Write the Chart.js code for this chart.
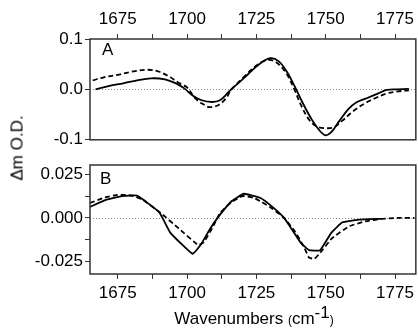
<!DOCTYPE html>
<html lang="en">
<head>
  <meta charset="UTF-8" />
  <title>Difference spectra</title>
  <script src="https://cdn.jsdelivr.net/npm/chart.js"></script>
  <style>
    body {
      margin: 0;
      background: #fff;
      font-family: "Liberation Sans", Arial, sans-serif;
      color: #000;
    }
    #wrap {
      position: relative;
      width: 418px;
      height: 329px;
      overflow: hidden;
    }
    canvas {
      position: absolute;
      left: 0;
    }
    #chartA { top: 0; }
    #chartB { top: 152px; }
    .lbl {
      position: absolute;
      font-size: 17px;
      line-height: 17px;
      white-space: nowrap;
    }
    #ytitle {
      left: 17px;
      top: 148px;
      transform: translate(-50%, -50%) rotate(-90deg);
    }
    #xtitle {
      left: 254px;
      top: 310px;
      transform: translateX(-50%);
    }
    #xtitle .small { font-size: 12px; }
    #xtitle .sup { position: relative; top: -6px; }
  </style>
</head>
<body>
  <div id="wrap">
    <canvas id="chartA" width="418" height="152"></canvas>
    <canvas id="chartB" width="418" height="177"></canvas>
    <div class="lbl" style="left:102px;top:41px">A</div>
    <div class="lbl" style="left:100px;top:170px">B</div>
    <div class="lbl" id="ytitle">&Delta;m O.D.</div>
    <div class="lbl" id="xtitle">Wavenumbers <span class="small">(</span>cm<span class="sup">-1</span><span class="small">)</span></div>
  </div>
  <script>
    // Panel A, solid trace
    const waveA1 = [1667, 1672, 1677, 1682, 1687, 1692, 1696, 1699, 1702, 1705, 1709, 1712, 1715, 1718, 1722, 1726, 1730, 1733, 1736, 1739, 1742, 1745, 1748, 1750, 1752, 1755, 1758, 1761, 1765, 1769, 1772, 1776, 1780];
    const odA1 = [0.000, 0.007, 0.012, 0.018, 0.022, 0.020, 0.012, 0.002, -0.012, -0.021, -0.025, -0.021, -0.005, 0.010, 0.030, 0.050, 0.062, 0.056, 0.035, 0.004, -0.030, -0.060, -0.083, -0.091, -0.085, -0.062, -0.040, -0.026, -0.017, -0.008, -0.001, 0.000, 0.001];
    // Panel A, dashed trace
    const waveA2 = [1666, 1670, 1675, 1680, 1686, 1690, 1694, 1697, 1700, 1703, 1706, 1708, 1711, 1714, 1716, 1720, 1724, 1728, 1730.5, 1733, 1736, 1738.7, 1741, 1744, 1747, 1750, 1753, 1756, 1760, 1764, 1768, 1772, 1776, 1780];
    const odA2 = [0.018, 0.024, 0.029, 0.035, 0.039, 0.035, 0.024, 0.013, 0.004, -0.018, -0.030, -0.035, -0.032, -0.018, 0.000, 0.022, 0.043, 0.057, 0.058, 0.050, 0.030, 0.000, -0.030, -0.060, -0.074, -0.077, -0.075, -0.062, -0.043, -0.028, -0.017, -0.008, -0.004, -0.002];

    // Panel B, solid trace
    const waveB1 = [1665, 1671, 1676, 1682, 1690, 1694, 1702, 1705, 1708, 1711, 1716, 1720.5, 1726.5, 1731, 1735, 1738, 1741, 1744, 1748, 1752, 1756, 1762, 1770];
    const odB1 = [0.0063, 0.0104, 0.0123, 0.0127, 0.0032, -0.0085, -0.0205, -0.0152, -0.0070, 0.0000, 0.0095, 0.0138, 0.0114, 0.0060, 0.0000, -0.0070, -0.0142, -0.0184, -0.0184, -0.0085, -0.0025, -0.0010, -0.0005];
    // Panel B, dashed trace
    const waveB2 = [1665, 1670, 1675, 1680, 1684, 1690.5, 1697, 1704, 1706, 1709, 1712, 1716, 1720, 1724, 1727, 1731, 1735, 1739, 1742, 1744, 1746, 1748, 1752.4, 1758.5, 1764.5, 1770, 1776, 1782];
    const odB2 = [0.0085, 0.0115, 0.0132, 0.0128, 0.0104, 0.0028, -0.0060, -0.0155, -0.0140, -0.0060, 0.0030, 0.0090, 0.0125, 0.0115, 0.0090, 0.0050, 0.0000, -0.0080, -0.0160, -0.0227, -0.0233, -0.0199, -0.0114, -0.0047, -0.0019, -0.0006, 0.0000, 0.0000];

    const xMin = 1665, xMax = 1782.5;
    const font = { family: '"Liberation Sans", Arial, sans-serif', size: 17 };

    const pts = (xs, ys) => xs.map((x, i) => ({ x: x, y: ys[i] }));

    // zero line and frame around the plot area
    const framePlugin = {
      id: 'frame',
      beforeDatasetsDraw(chart) {
        const { ctx, chartArea: a, scales } = chart;
        const y0 = Math.round(scales.y.getPixelForValue(0)) + 0.5;
        ctx.save();
        ctx.strokeStyle = '#8a8a8a';
        ctx.lineWidth = 1;
        ctx.setLineDash([1, 2]);
        ctx.beginPath();
        ctx.moveTo(a.left, y0);
        ctx.lineTo(a.right, y0);
        ctx.stroke();
        ctx.restore();
      },
      afterDatasetsDraw(chart) {
        const { ctx, chartArea: a } = chart;
        ctx.save();
        ctx.strokeStyle = '#333';
        ctx.lineWidth = 1.5;
        ctx.strokeRect(a.left, a.top, a.right - a.left, a.bottom - a.top);
        ctx.restore();
      }
    };

    function makeChart(id, solid, dashed, opts) {
      return new Chart(document.getElementById(id), {
        type: 'line',
        data: {
          datasets: [
            { data: solid, borderColor: '#000', borderWidth: 1.8, tension: opts.tension, pointRadius: 0, fill: false },
            { data: dashed, borderColor: '#000', borderWidth: 1.8, borderDash: [5, 3], tension: opts.tension, pointRadius: 0, fill: false }
          ]
        },
        options: {
          responsive: false,
          animation: false,
          layout: { padding: opts.padding },
          plugins: { legend: { display: false }, tooltip: { enabled: false } },
          scales: {
            x: {
              type: 'linear',
              position: opts.xPos,
              min: xMin,
              max: xMax,
              afterFit: s => { s.height = opts.xHeight; },
              border: { display: false },
              grid: { drawOnChartArea: false, drawTicks: true, tickLength: 5, color: '#333' },
              ticks: {
                stepSize: 12.5,
                includeBounds: false,
                autoSkip: false,
                maxRotation: 0,
                padding: 4,
                color: '#000',
                font: font,
                callback: v => (v % 25 === 0 ? String(v) : '')
              }
            },
            y: {
              min: opts.yMin,
              max: opts.yMax,
              afterFit: s => { s.width = 90; },
              border: { display: false },
              grid: { drawOnChartArea: false, drawTicks: true, tickLength: 5, color: '#333' },
              ticks: {
                stepSize: opts.yStep,
                includeBounds: false,
                autoSkip: false,
                padding: 2,
                color: '#000',
                font: font,
                callback: opts.yFmt
              }
            }
          }
        },
        plugins: [framePlugin]
      });
    }

    makeChart('chartA', pts(waveA1, odA1), pts(waveA2, odA2), {
      tension: 0.35,
      padding: { left: 0, right: 1, top: 0, bottom: 5 },
      xPos: 'top',
      xHeight: 39,
      yMin: -0.1,
      yMax: 0.1,
      yStep: 0.1,
      yFmt: v => (Math.abs(v) < 1e-9 ? 0 : v).toFixed(1)
    });

    makeChart('chartB', pts(waveB1, odB1), pts(waveB2, odB2), {
      tension: 0.1,
      padding: { left: 0, right: 1, top: 13, bottom: 25 },
      xPos: 'bottom',
      xHeight: 30,
      yMin: -0.032,
      yMax: 0.0302,
      yStep: 0.0125,
      yFmt: v => {
        const r = v / 0.025;
        if (Math.abs(r - Math.round(r)) > 1e-6) return '';
        return (Math.abs(v) < 1e-9 ? 0 : v).toFixed(3);
      }
    });
  </script>
</body>
</html>
